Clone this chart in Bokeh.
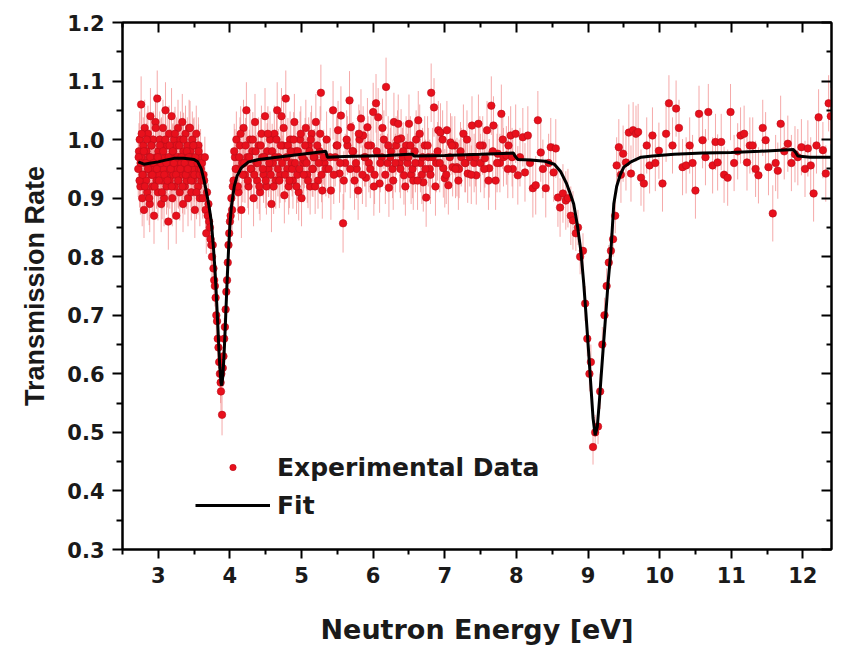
import numpy as np
from bokeh.plotting import figure
from bokeh.models import (LinearAxis, FixedTicker, NumeralTickFormatter,
                          Legend, LegendItem, ColumnDataSource, Range1d)
from bokeh.embed import file_html
from bokeh.resources import INLINE

# ---------------- data ----------------
energy_low = [2.72, 2.73, 2.74, 2.75, 2.76, 2.765, 2.775, 2.785, 2.79, 2.80,
              2.81, 2.82, 2.83, 2.835, 2.845, 2.855, 2.86, 2.87, 2.88, 2.89,
              2.90, 2.905, 2.915, 2.925, 2.93, 2.94, 2.95, 2.96, 2.97, 2.975,
              2.985, 2.995, 3.00, 3.01, 3.02, 3.03, 3.04, 3.045, 3.055, 3.065,
              3.07, 3.08, 3.09, 3.10, 3.11, 3.115, 3.125, 3.135, 3.14, 3.15,
              3.16, 3.17, 3.18, 3.185, 3.195, 3.205, 3.21, 3.22, 3.23, 3.24,
              3.25, 3.255, 3.265, 3.275, 3.28, 3.29, 3.30, 3.31, 3.32, 3.325,
              3.335, 3.345, 3.35, 3.36, 3.37, 3.38, 3.39, 3.395, 3.405, 3.415,
              3.42, 3.43, 3.44, 3.45, 3.46, 3.465, 3.475, 3.485, 3.49, 3.50,
              3.51, 3.52, 3.53, 3.535, 3.545, 3.555, 3.56, 3.57, 3.58, 3.59, 3.60]
trans_low = [0.95, 0.98, 1.00, 0.92, 1.06, 0.97, 0.90, 0.94, 0.99, 0.88, 1.02, 0.96, 0.93, 0.98, 0.91, 1.01, 0.95, 0.97, 0.89, 1.04,
             0.94, 0.99, 0.92, 0.96, 1.00, 0.87, 0.95, 1.03, 0.97, 0.93, 1.07, 0.91, 0.98, 0.94, 1.00, 0.96, 0.89, 0.99, 0.93, 1.02,
             0.95, 0.90, 0.97, 1.05, 0.94, 0.92, 0.99, 0.96, 0.86, 1.01, 0.93, 0.97, 0.95, 1.04, 0.90, 0.98, 0.94, 1.00, 0.92, 0.96,
             0.87, 0.99, 0.95, 1.02, 0.93, 0.97, 0.91, 1.00, 0.96, 0.94, 1.03, 0.89, 0.98, 0.95, 0.92, 1.01, 0.97, 0.93, 0.99, 0.90,
             0.96, 1.02, 0.94, 0.98, 0.91, 0.97, 1.00, 0.93, 0.95, 0.99, 0.88, 0.96, 1.01, 0.94, 0.97, 0.92, 0.99, 0.95, 0.90, 0.97, 0.93]
err_low = 0.048

energy_low2 = [2.725, 2.738, 2.752, 2.768, 2.781, 2.797, 2.812, 2.826, 2.841, 2.858,
               2.872, 2.887, 2.902, 2.918, 2.933, 2.948, 2.963, 2.979, 2.993, 3.008,
               3.024, 3.038, 3.053, 3.068, 3.084, 3.098, 3.113, 3.128, 3.144, 3.158,
               3.173, 3.188, 3.203, 3.218, 3.233, 3.248, 3.263, 3.278, 3.293, 3.308,
               3.323, 3.338, 3.353, 3.368, 3.383, 3.398, 3.413, 3.428, 3.443, 3.458,
               3.473, 3.488, 3.503, 3.518, 3.533, 3.548, 3.563, 3.578, 3.593]
trans_low2 = [0.97, 0.93, 0.96, 1.01, 0.94, 0.98, 0.92, 0.96, 1.00, 0.95,
              0.90, 0.97, 0.99, 0.94, 0.96, 0.92, 1.02, 0.95, 0.97, 0.93,
              0.99, 0.96, 0.91, 0.98, 0.94, 1.00, 0.96, 0.93, 0.97, 0.99,
              0.95, 0.92, 0.98, 0.96, 1.01, 0.94, 0.97, 0.93, 0.99, 0.95,
              0.97, 0.92, 1.00, 0.96, 0.94, 0.98, 0.95, 0.97, 1.02, 0.93,
              0.96, 0.99, 0.94, 0.97, 0.91, 0.96, 0.98, 0.94, 0.95]
err_low2 = 0.046

energy_dip1 = [3.61, 3.62, 3.63, 3.64, 3.65, 3.66, 3.67, 3.68, 3.69, 3.70,
               3.71, 3.72, 3.73, 3.74, 3.75, 3.76, 3.77, 3.78, 3.79, 3.80,
               3.81, 3.82, 3.83, 3.84, 3.85, 3.86, 3.87, 3.875, 3.88, 3.89,
               3.90, 3.91, 3.92, 3.93, 3.94, 3.95, 3.96, 3.97, 3.98, 3.99,
               4.00, 4.01, 4.02, 4.03, 4.04]
trans_dip1 = [0.96, 0.90, 0.94, 0.93, 0.97, 0.88, 0.84, 0.91, 0.87, 0.89,
              0.86, 0.85, 0.83, 0.82, 0.80, 0.82, 0.78, 0.76, 0.75, 0.73,
              0.70, 0.69, 0.66, 0.645, 0.62, 0.60, 0.585, 0.57, 0.60, 0.53,
              0.61, 0.63, 0.66, 0.68, 0.71, 0.74, 0.76, 0.79, 0.82, 0.84,
              0.86, 0.87, 0.90, 0.88, 0.92]
err_dip1 = 0.035

energy_mid = [4.05, 4.07, 4.09, 4.10, 4.12, 4.14, 4.16, 4.17, 4.19, 4.21,
              4.23, 4.24, 4.26, 4.28, 4.30, 4.31, 4.33, 4.35, 4.37, 4.38,
              4.40, 4.42, 4.44, 4.45, 4.47, 4.49, 4.51, 4.52, 4.54, 4.56,
              4.58, 4.60, 4.62, 4.64, 4.66, 4.68, 4.70, 4.72, 4.74, 4.76,
              4.78, 4.80, 4.82, 4.84, 4.86, 4.88, 4.90, 4.92, 4.94, 4.96,
              4.98, 5.00, 5.02, 5.04, 5.06, 5.08, 5.10, 5.12, 5.14, 5.16,
              5.18, 5.20, 5.23, 5.25, 5.27, 5.29, 5.32, 5.35]
trans_mid = [0.93, 0.97, 1.00, 0.95, 0.91, 0.99, 0.88, 0.96, 1.02, 0.94,
             1.05, 0.97, 0.92, 1.00, 0.95, 0.98, 0.90, 1.03, 0.96, 0.93,
             0.99, 0.91, 1.01, 0.97, 0.94, 1.04, 0.92, 0.98, 0.95, 1.00,
             0.89, 0.96, 1.01, 0.93, 1.05, 0.97, 0.94, 1.04, 0.99, 0.905,
             1.07, 0.95, 0.92, 1.00, 0.96, 0.93, 1.03, 0.98, 0.94, 0.91,
             1.00, 0.90, 0.96, 0.965, 1.02, 0.94, 0.99, 0.92, 1.01, 0.95,
             0.97, 1.03, 0.93, 0.98, 1.08, 0.913, 0.96, 1.00]
err_mid = 0.048

energy_mid2 = [4.06, 4.08, 4.11, 4.13, 4.15, 4.18, 4.20, 4.22, 4.25, 4.27,
               4.29, 4.32, 4.34, 4.36, 4.39, 4.41, 4.43, 4.46, 4.48, 4.50,
               4.53, 4.55, 4.57, 4.59, 4.61, 4.63, 4.65, 4.67, 4.69, 4.71,
               4.73, 4.75, 4.77, 4.79, 4.81, 4.83, 4.85, 4.87, 4.89, 4.91,
               4.93, 4.95, 4.97, 4.99, 5.01, 5.03, 5.05, 5.07, 5.09, 5.11,
               5.13, 5.15, 5.17, 5.19, 5.22, 5.24, 5.26, 5.28, 5.31, 5.34]
trans_mid2 = [0.98, 0.95, 0.92, 0.97, 1.01, 0.94, 0.96, 0.99, 0.93, 0.97,
              0.95, 1.00, 0.94, 0.98, 0.96, 0.92, 0.99, 0.95, 0.97, 0.93,
              1.01, 0.96, 0.94, 0.98, 0.92, 0.97, 1.00, 0.95, 0.93, 0.99,
              0.96, 1.02, 0.94, 0.97, 0.99, 0.93, 0.98, 0.95, 1.00, 0.96,
              0.92, 0.98, 0.95, 1.01, 0.97, 0.94, 0.99, 0.96, 0.93, 0.98,
              1.00, 0.95, 0.97, 0.92, 0.99, 0.96, 1.01, 0.94, 0.97, 0.95]
err_mid2 = 0.047

energy_plateau = [5.38, 5.41, 5.44, 5.47, 5.49, 5.51, 5.53, 5.55, 5.58, 5.61,
                  5.64, 5.67, 5.69, 5.72, 5.74, 5.77, 5.79, 5.81, 5.83, 5.86,
                  5.88, 5.90, 5.92, 5.94, 5.97, 6.00, 6.02, 6.04, 6.07, 6.09,
                  6.12, 6.15, 6.18, 6.20, 6.22, 6.25, 6.27, 6.29, 6.32, 6.35,
                  6.37, 6.39, 6.41, 6.43, 6.46, 6.48, 6.50, 6.53, 6.56, 6.58,
                  6.60, 6.63, 6.66, 6.68, 6.70, 6.72, 6.74, 6.77, 6.79, 6.81,
                  6.85, 6.88, 6.91, 6.94, 6.98, 7.00, 7.03, 7.05, 7.08, 7.11,
                  7.14, 7.17, 7.20, 7.23, 7.26, 7.29, 7.32, 7.35, 7.38, 7.41,
                  7.44, 7.47, 7.50, 7.53, 7.56, 7.59, 7.62, 7.65, 7.68, 7.71,
                  7.74, 7.77, 7.79, 7.82, 7.86, 7.89, 7.92, 7.95]
trans_plateau = [0.95, 0.913, 1.05, 0.97, 0.99, 1.016, 0.942, 1.041, 0.857, 0.96,
                 0.99, 1.067, 1.021, 0.98, 0.93, 0.95, 0.913, 1.00, 1.036, 1.007,
                 0.97, 0.935, 1.021, 0.96, 0.99, 1.047, 0.94, 1.062, 1.038, 0.925,
                 0.97, 1.00, 1.09, 0.96, 0.918, 0.98, 0.95, 1.03, 0.99, 1.027,
                 0.96, 1.002, 0.97, 0.939, 0.99, 0.96, 1.027, 0.94, 0.93, 0.98,
                 1.00, 1.033, 0.96, 0.94, 0.927, 0.99, 0.901, 0.97, 0.95, 1.08,
                 1.055, 0.96, 1.016, 1.012, 0.951, 0.934, 1.016, 0.922, 0.995, 0.953,
                 0.99, 0.953, 0.95, 0.97, 1.01, 0.96, 0.942, 0.97, 1.024, 0.96,
                 0.939, 1.027, 0.96, 0.99, 0.968, 1.016, 0.951, 1.058, 1.024, 0.93,
                 0.976, 0.96, 1.044, 0.97, 0.973, 0.99, 1.007, 0.95]
err_plateau = 0.05

energy_plateau2 = [5.40, 5.45, 5.50, 5.54, 5.59, 5.63, 5.68, 5.71, 5.76, 5.80,
                   5.85, 5.89, 5.93, 5.96, 6.01, 6.05, 6.10, 6.13, 6.17, 6.21,
                   6.24, 6.28, 6.31, 6.34, 6.38, 6.42, 6.45, 6.49, 6.52, 6.55,
                   6.59, 6.62, 6.65, 6.69, 6.73, 6.76, 6.80, 6.83, 6.87, 6.90,
                   6.93, 6.97, 7.02, 7.07, 7.10, 7.15, 7.19, 7.22, 7.28, 7.31,
                   7.37, 7.43, 7.49, 7.55, 7.61, 7.67, 7.73, 7.81, 7.88, 7.94]
trans_plateau2 = [0.97, 0.94, 0.99, 0.96, 0.93, 1.00, 0.95, 0.98, 0.96, 1.01,
                  0.94, 0.97, 0.99, 0.95, 0.92, 0.98, 0.96, 1.02, 0.94, 0.99,
                  0.97, 0.93, 0.96, 1.00, 0.95, 0.98, 0.92, 0.97, 0.99, 0.95,
                  0.96, 0.93, 1.01, 0.97, 0.95, 0.99, 0.94, 0.97, 0.92, 0.98,
                  0.96, 1.00, 0.94, 0.97, 0.99, 0.95, 0.93, 0.98, 0.96, 1.00,
                  0.94, 0.97, 0.99, 0.95, 0.93, 0.98, 0.96, 1.00, 0.95, 0.97]
err_plateau2 = 0.05

energy_pre = [7.99, 8.02, 8.05, 8.09, 8.12, 8.16, 8.19, 8.23, 8.27, 8.30,
              8.34, 8.37, 8.41, 8.45, 8.48, 8.52, 8.55, 8.58, 8.61, 8.65,
              8.69, 8.72, 8.76, 8.79]
trans_pre = [1.01, 0.939, 0.97, 1.004, 0.944, 1.007, 0.96, 0.917, 0.922, 1.033,
             0.978, 0.95, 0.917, 0.96, 0.987, 0.944, 0.985, 0.901, 0.884, 0.908,
             0.896, 0.90, 0.87, 0.862]
err_pre = 0.05

energy_dip2 = [8.83, 8.86, 8.89, 8.93, 8.96, 8.99, 9.02, 9.04, 9.07, 9.10,
               9.14, 9.17, 9.20, 9.23, 9.26, 9.29, 9.32, 9.35, 9.38]
trans_dip2 = [0.84, 0.85, 0.80, 0.81, 0.72, 0.66, 0.60, 0.62, 0.475, 0.50,
              0.51, 0.57, 0.65, 0.70, 0.75, 0.79, 0.81, 0.83, 0.87]
err_dip2 = 0.03

energy_high = [9.40, 9.43, 9.46, 9.49, 9.53, 9.57, 9.60, 9.63, 9.67, 9.70,
               9.74, 9.78, 9.82, 9.86, 9.90, 9.94, 9.99, 10.04, 10.09, 10.13,
               10.18, 10.23, 10.27, 10.32, 10.37, 10.42, 10.46, 10.50, 10.55, 10.60,
               10.64, 10.68, 10.74, 10.78, 10.81, 10.86, 10.90, 10.95, 10.99, 11.04,
               11.09, 11.13, 11.18, 11.22, 11.26, 11.30, 11.34, 11.38, 11.44, 11.48,
               11.52, 11.58, 11.62, 11.65, 11.69, 11.74, 11.79, 11.84, 11.89, 11.93,
               11.98, 12.03, 12.07, 12.11, 12.15, 12.19, 12.22, 12.28, 12.32, 12.36,
               12.39]
trans_high = [0.956, 0.987, 0.94, 0.976, 0.961, 1.012, 0.942, 1.016, 1.01, 1.013,
              0.935, 0.925, 0.99, 0.956, 1.007, 0.96, 0.981, 0.925, 1.01, 1.062,
              0.99, 1.053, 1.02, 0.953, 0.956, 0.99, 0.96, 0.913, 1.044, 0.999,
              0.97, 1.047, 0.956, 0.996, 0.961, 0.996, 0.94, 0.935, 1.047, 0.96,
              0.98, 1.007, 1.01, 0.961, 0.99, 0.99, 0.95, 0.939, 1.02, 0.999,
              0.953, 0.874, 0.96, 0.947, 1.027, 0.98, 0.993, 0.96, 0.975, 0.97,
              0.987, 0.95, 0.985, 0.956, 0.908, 0.99, 1.038, 0.982, 0.942, 1.062,
              1.04]
err_high = 0.048

fit_energy = [2.72, 2.80, 2.90, 3.00, 3.10, 3.22, 3.35, 3.45, 3.50, 3.55,
              3.60, 3.64, 3.68, 3.71, 3.74, 3.77, 3.79, 3.81, 3.83, 3.845,
              3.86, 3.875, 3.885, 3.90, 3.915, 3.93, 3.95, 3.965, 3.98, 4.00,
              4.02, 4.06, 4.10, 4.16, 4.26, 4.40, 4.60, 4.80, 5.00, 5.20,
              5.34, 5.36, 5.60, 5.90, 6.20, 6.50, 6.55, 6.57, 7.00, 7.50,
              7.96, 7.98, 8.02, 8.20, 8.40, 8.53, 8.62, 8.70, 8.76, 8.80,
              8.85, 8.90, 8.94, 8.97, 9.01, 9.04, 9.07, 9.10, 9.13, 9.16,
              9.18, 9.21, 9.25, 9.28, 9.32, 9.36, 9.40, 9.45, 9.50, 9.60,
              9.74, 9.90, 10.2, 10.6, 11.0, 11.4, 11.87, 11.90, 11.93, 12.10,
              12.42]
fit_trans = [0.962, 0.958, 0.960, 0.962, 0.965, 0.968, 0.968, 0.967, 0.966, 0.962,
             0.950, 0.930, 0.905, 0.885, 0.860, 0.815, 0.780, 0.735, 0.685, 0.645,
             0.610, 0.585, 0.580, 0.595, 0.625, 0.665, 0.726, 0.770, 0.810, 0.855,
             0.885, 0.920, 0.938, 0.952, 0.962, 0.966, 0.969, 0.972, 0.975, 0.978,
             0.980, 0.970, 0.971, 0.972, 0.973, 0.975, 0.975, 0.972, 0.973, 0.975,
             0.977, 0.972, 0.966, 0.965, 0.963, 0.958, 0.945, 0.925, 0.905, 0.890,
             0.855, 0.810, 0.755, 0.705, 0.635, 0.580, 0.525, 0.495, 0.510, 0.555,
             0.590, 0.640, 0.705, 0.755, 0.810, 0.890, 0.920, 0.940, 0.953, 0.962,
             0.970, 0.972, 0.975, 0.977, 0.978, 0.980, 0.983, 0.978, 0.972, 0.970,
             0.970]

x_major_ticks = [3, 4, 5, 6, 7, 8, 9, 10, 11, 12]
x_minor_ticks = [2.5, 3.5, 4.5, 5.5, 6.5, 7.5, 8.5, 9.5, 10.5, 11.5]
y_major_ticks = [0.3, 0.4, 0.5, 0.6, 0.7, 0.8, 0.9, 1.0, 1.1, 1.2]
y_minor_ticks = [0.35, 0.45, 0.55, 0.65, 0.75, 0.85, 0.95, 1.05, 1.15]

# ---------------- assemble ----------------
segments = [(energy_low, trans_low, err_low), (energy_low2, trans_low2, err_low2),
            (energy_dip1, trans_dip1, err_dip1),
            (energy_mid, trans_mid, err_mid), (energy_mid2, trans_mid2, err_mid2),
            (energy_plateau, trans_plateau, err_plateau),
            (energy_plateau2, trans_plateau2, err_plateau2),
            (energy_pre, trans_pre, err_pre), (energy_dip2, trans_dip2, err_dip2),
            (energy_high, trans_high, err_high)]
ex, ey, ee = [], [], []
for xs, ys, er in segments:
    n = min(len(xs), len(ys))
    ex += list(xs[:n]); ey += list(ys[:n]); ee += [er] * n
ex = np.array(ex); ey = np.array(ey); ee = np.array(ee)
src = ColumnDataSource(dict(x=ex, y=ey, lo=ey - ee, hi=ey + ee))
nf = min(len(fit_energy), len(fit_trans))
fit_src = ColumnDataSource(dict(x=fit_energy[:nf], y=fit_trans[:nf]))

FONT_H = "DejaVu Sans"
TXT = "#1a1a1a"
p = figure(width=847, height=652, output_backend="svg", toolbar_location=None,
           x_range=Range1d(2.5, 12.4), y_range=Range1d(0.3, 1.2),
           min_border_left=122, min_border_right=16, min_border_top=22, min_border_bottom=103,
           x_axis_label="Neutron Energy [eV]", y_axis_label="Transmission Rate")
p.background_fill_color = "white"
p.border_fill_color = "white"
p.grid.visible = False
p.outline_line_color = "black"
p.outline_line_width = 2

def xticker():
    return FixedTicker(ticks=x_major_ticks, minor_ticks=x_minor_ticks)

def yticker():
    return FixedTicker(ticks=y_major_ticks, minor_ticks=y_minor_ticks)

for ax, tk in ((p.xaxis[0], xticker()), (p.yaxis[0], yticker())):
    ax.ticker = tk
    ax.axis_line_width = 2
    ax.major_tick_line_width = 2
    ax.minor_tick_line_width = 2
    ax.major_tick_in = 0
    ax.minor_tick_in = 0
    ax.major_label_text_font = FONT_H
    ax.major_label_text_font_style = "bold"
    ax.major_label_text_font_size = "21px"
    ax.major_label_text_color = TXT
    ax.axis_label_text_font_style = "bold"
    ax.axis_label_text_color = TXT

p.xaxis[0].major_tick_out = 9
p.xaxis[0].minor_tick_out = 5
p.xaxis[0].major_label_standoff = 8
p.xaxis[0].formatter = NumeralTickFormatter(format="0")
p.xaxis[0].axis_label_text_font = FONT_H
p.xaxis[0].axis_label_text_font_size = "27px"
p.xaxis[0].axis_label_standoff = 28

p.yaxis[0].major_tick_out = 10
p.yaxis[0].minor_tick_out = 6
p.yaxis[0].major_label_standoff = 8
p.yaxis[0].formatter = NumeralTickFormatter(format="0.0")
p.yaxis[0].axis_label_text_font = "Liberation Sans"
p.yaxis[0].axis_label_text_font_size = "27px"
p.yaxis[0].axis_label_standoff = 14

# mirrored axes with inward ticks
for side, tk in (("above", xticker()), ("right", yticker())):
    a = LinearAxis(ticker=tk, major_label_text_font_size="0px", major_label_standoff=0,
                   axis_line_width=2, major_tick_line_width=2, minor_tick_line_width=2,
                   major_tick_in=10, major_tick_out=0, minor_tick_in=5, minor_tick_out=0)
    a.major_label_text_color = None
    p.add_layout(a, side)

# error bars, points, fit
p.segment(x0="x", y0="lo", x1="x", y1="hi", source=src, line_color="#f28c8c",
          line_alpha=0.75, line_width=1)
pts = p.scatter(x="x", y="y", source=src, size=7.5, marker="circle",
                fill_color="#e8101c", line_color="#b80d1a", line_width=0.6)
fit = p.line(x="x", y="y", source=fit_src, line_color="black", line_width=3)

legend = Legend(items=[LegendItem(label="Experimental Data", renderers=[pts]),
                       LegendItem(label="Fit", renderers=[fit])],
                location=(73, 29), border_line_color=None, background_fill_alpha=0,
                padding=0, margin=0, spacing=8, glyph_width=75, glyph_height=16,
                label_height=30, label_standoff=7,
                label_text_font=FONT_H, label_text_font_style="bold",
                label_text_font_size="25px", label_text_color=TXT)
p.add_layout(legend, "center")

open("out.html", "w").write(file_html(p, INLINE))
